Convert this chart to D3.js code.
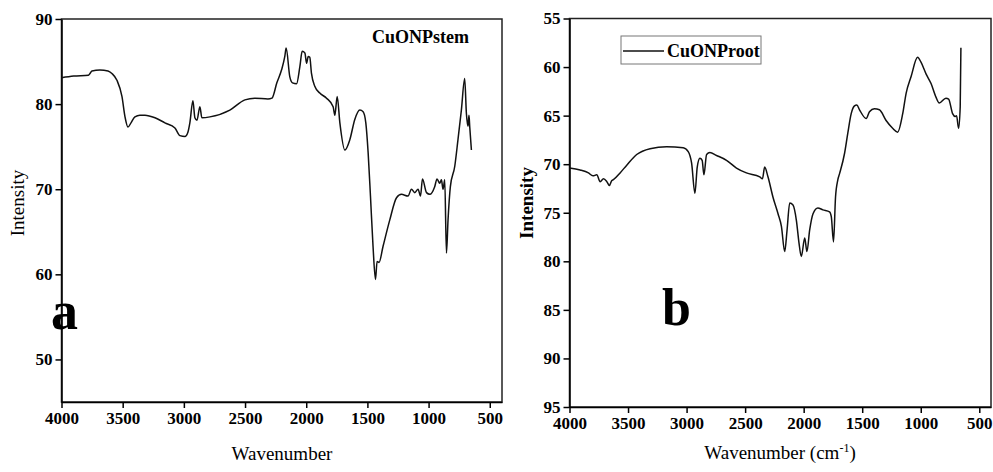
<!DOCTYPE html>
<html>
<head>
<meta charset="utf-8">
<style>
body { margin: 0; background: #fff; }
svg text { font-family: "Liberation Serif", "Times New Roman", serif; }
.tick text { font-family: "Liberation Serif", "Times New Roman", serif; font-weight: bold; font-size: 17px; fill: #000; }
.tick line, .domain { stroke: #000; stroke-width: 1.5; }
</style>
</head>
<body>
<svg width="993" height="472"></svg>
<script src="https://d3js.org/d3.v7.min.js"></script>
<script>
var svg = d3.select("svg");

// panel a: CuONPstem
var stemWn = [4000,3900,3780,3767,3751,3686,3620,3588,3547,3506,3481,3457,3432,3400,3359,3318,3236,3155,3073,3032,2991,2967,2951,2926,2910,2893,2869,2853,2787,2624,2501,2420,2313,2280,2240,2202,2175,2164,2134,2112,2079,2052,2033,2011,1997,1984,1971,1957,1930,1889,1834,1780,1766,1747,1725,1684,1644,1603,1562,1535,1513,1494,1475,1454,1434,1421,1405,1372,1317,1262,1222,1168,1140,1113,1086,1066,1050,1017,990,950,931,909,895,882,868,854,841,822,786,760,732,705,691,678,670,664,650];
var stemVal = [83.1,83.3,83.4,83.6,83.9,84.0,83.9,83.6,82.8,80.9,78.5,77.3,77.8,78.5,78.7,78.7,78.4,77.8,77.2,76.3,76.2,76.7,77.8,80.4,78.4,78.1,79.7,78.4,78.5,79.3,80.5,80.7,80.6,80.7,82.5,84.0,85.6,86.6,83.2,82.5,82.4,84.4,86.2,86.0,84.8,85.6,85.5,83.6,82.1,81.3,80.7,79.7,78.7,80.9,77.8,74.6,75.8,78.2,79.3,79.1,77.8,74.3,69.2,63.3,59.4,61.5,61.4,63.3,66.4,69.0,69.4,69.2,70.0,69.6,70.0,69.2,71.2,69.6,69.4,70.3,71.2,70.7,71.1,70.0,71.1,62.5,66.4,70.3,72.7,75.8,79.3,83.0,78.9,77.4,78.7,77.4,74.6];

// panel b: CuONProot
var rootWn = [4000,3909,3838,3800,3767,3738,3710,3681,3659,3640,3625,3568,3511,3426,3312,3170,3029,2986,2957,2929,2909,2886,2867,2852,2829,2801,2744,2659,2574,2489,2375,2352,2333,2305,2262,2219,2190,2162,2142,2119,2091,2062,2040,2020,1991,1972,1949,1920,1879,1836,1779,1764,1745,1728,1708,1694,1651,1623,1594,1566,1546,1523,1466,1438,1396,1353,1296,1240,1197,1154,1125,1083,1027,998,955,912,870,842,785,762,728,705,694,677,663,657];
var rootVal = [70.4,70.6,70.9,71.2,71.1,71.8,71.5,71.8,72.2,71.7,71.6,70.9,70.1,69.0,68.4,68.2,68.3,68.7,69.9,73.0,70.3,69.4,69.6,71.1,69.0,68.8,69.1,69.6,70.4,70.9,71.3,71.5,70.3,71.3,73.4,75.1,76.4,79.0,76.8,74.0,74.2,75.8,78.1,79.5,77.6,79.0,76.8,75.1,74.5,74.7,74.9,75.4,78.0,73.4,71.6,71.0,68.9,66.8,64.8,64.0,63.9,64.4,65.3,64.6,64.3,64.4,65.5,66.3,66.7,64.8,62.7,61.0,59.0,59.5,60.7,61.7,63.1,63.7,63.2,63.3,64.8,65.1,65.0,66.3,64.1,58.0];

var wnTicks = [4000,3500,3000,2500,2000,1500,1000,500];
var stemTicks = [50,60,70,80,90];
var rootTicks = [55,60,65,70,75,80,85,90,95];

function panel(box, wn, val, yDomain, yTicks) {
  var x = d3.scaleLinear().domain([4000, 400]).range([box.left, box.right]);
  var y = d3.scaleLinear().domain(yDomain).range([box.bottom, box.top]);
  var g = svg.append("g");

  // frame
  g.append("rect")
    .attr("x", box.left).attr("y", box.top)
    .attr("width", box.right - box.left).attr("height", box.bottom - box.top)
    .attr("fill", "none").attr("stroke", "#222").attr("stroke-width", 1.5);

  g.append("g")
    .attr("transform", "translate(0," + box.bottom + ")")
    .call(d3.axisBottom(x).tickValues(wnTicks).tickFormat(d3.format("d"))
      .tickSize(6).tickPadding(4).tickSizeOuter(0));
  g.append("g")
    .attr("transform", "translate(" + box.left + ",0)")
    .call(d3.axisLeft(y).tickValues(yTicks).tickFormat(d3.format("d"))
      .tickSize(6).tickPadding(3).tickSizeOuter(0));

  var line = d3.line()
    .x(function(d) { return x(d[0]); })
    .y(function(d) { return y(d[1]); })
    .curve(d3.curveMonotoneX);

  g.append("path")
    .datum(d3.zip(wn, val))
    .attr("fill", "none")
    .attr("stroke", "#111")
    .attr("stroke-width", 1.5)
    .attr("stroke-linejoin", "round")
    .attr("d", line);
  return g;
}

var ga = panel({left: 61.5, right: 502, top: 19, bottom: 402}, stemWn, stemVal, [45, 90], stemTicks);
var gb = panel({left: 569.5, right: 991, top: 18.5, bottom: 407}, rootWn, rootVal, [95, 55], rootTicks);

// labels panel a
ga.append("text").attr("x", 282).attr("y", 460).attr("text-anchor", "middle")
  .attr("font-size", 19).text("Wavenumber");
ga.append("text").attr("transform", "translate(24,203) rotate(-90)").attr("text-anchor", "middle")
  .attr("font-size", 19).text("Intensity");
ga.append("text").attr("x", 469).attr("y", 43).attr("text-anchor", "end")
  .attr("font-size", 18).attr("font-weight", "bold").text("CuONPstem");
ga.append("text").attr("x", 51).attr("y", 329)
  .attr("font-size", 54).attr("font-weight", "bold").text("a");

// labels panel b
var xl = gb.append("text").attr("x", 780).attr("y", 459).attr("text-anchor", "middle")
  .attr("font-size", 19).text("Wavenumber (cm");
xl.append("tspan").attr("dy", -7).attr("font-size", 12).text("-1");
xl.append("tspan").attr("dy", 7).text(")");
gb.append("text").attr("transform", "translate(533,203) rotate(-90)").attr("text-anchor", "middle")
  .attr("font-size", 19).attr("font-weight", "bold").text("Intensity");
gb.append("text").attr("x", 662).attr("y", 325)
  .attr("font-size", 52).attr("font-weight", "bold").text("b");

// legend
var lg = gb.append("g");
lg.append("rect").attr("x", 621).attr("y", 36).attr("width", 140).attr("height", 28)
  .attr("fill", "#fff").attr("stroke", "#777").attr("stroke-width", 1);
lg.append("line").attr("x1", 623).attr("x2", 664).attr("y1", 51).attr("y2", 51)
  .attr("stroke", "#111").attr("stroke-width", 1.5);
lg.append("text").attr("x", 667).attr("y", 57).attr("font-size", 18)
  .attr("font-weight", "bold").text("CuONProot");
</script>
</body>
</html>
